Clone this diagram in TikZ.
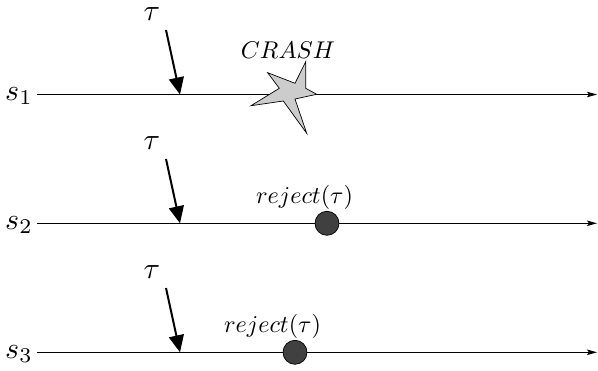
\documentclass[tikz,border=0pt]{standalone}
\usetikzlibrary{arrows.meta}
\tikzset{
  proc/.style={line width=1.1pt,-{Stealth[length=10pt,width=5.5pt,inset=2pt]}},
  msg/.style={line width=2pt,-{Triangle[length=17pt,width=15pt]}},
  rej/.style={circle,draw=black,line width=0.7pt,fill=black!75,minimum size=24pt,inner sep=0pt},
  lab/.style={inner sep=0pt,scale=2.42},
  tlab/.style={inner sep=0pt,scale=3},
  plab/.style={inner sep=0pt,scale=3},
  burst/.style={draw=black,line width=0.7pt,fill=black!20}
}
\begin{document}
\begin{tikzpicture}[x=1pt,y=-1pt]
\useasboundingbox (0,0) rectangle (598,371);
% process lines
\coordinate (a1) at (37,94.5); \coordinate (b1) at (597,94.5);
\coordinate (a2) at (37,223.3); \coordinate (b2) at (597,223.3);
\coordinate (a3) at (37,352.3); \coordinate (b3) at (597,352.3);
\draw[proc] (a1) -- (b1);
\draw[proc] (a2) -- (b2);
\draw[proc] (a3) -- (b3);
\node[plab] (s1) at (19,96) {$s_1$};
\node[plab] (s2) at (19,225) {$s_2$};
\node[plab] (s3) at (19,354) {$s_3$};
% messages
\node[tlab] (t1) at (152,14) {$\tau$};
\node[tlab] (t2) at (152,143) {$\tau$};
\node[tlab] (t3) at (152,272) {$\tau$};
\coordinate (m1s) at (166,30); \coordinate (m1e) at (180,94.5);
\coordinate (m2s) at (166,159); \coordinate (m2e) at (180,223.3);
\coordinate (m3s) at (166,288); \coordinate (m3e) at (180,352.3);
\draw[msg] (m1s) -- (m1e);
\draw[msg] (m2s) -- (m2e);
\draw[msg] (m3s) -- (m3e);
% crash
\draw[burst] (305.7,61.7) -- (295,83.3) -- (267.7,72.7) -- (279.3,88.3) -- (251,105.7) -- (283.3,101) -- (306.7,133.3) -- (295,99) -- (316.7,94.3) -- (305.7,88.3) -- cycle;
\node[lab] (crash) at (288,50) {$CRASH$};
% rejects
\node[rej] (r2) at (327,223.3) {};
\node[rej] (r3) at (295,352.3) {};
\node[lab] (l2) at (304.5,197) {$reject(\tau)$};
\node[lab] (l3) at (272.5,326) {$reject(\tau)$};
\end{tikzpicture}
\end{document}
